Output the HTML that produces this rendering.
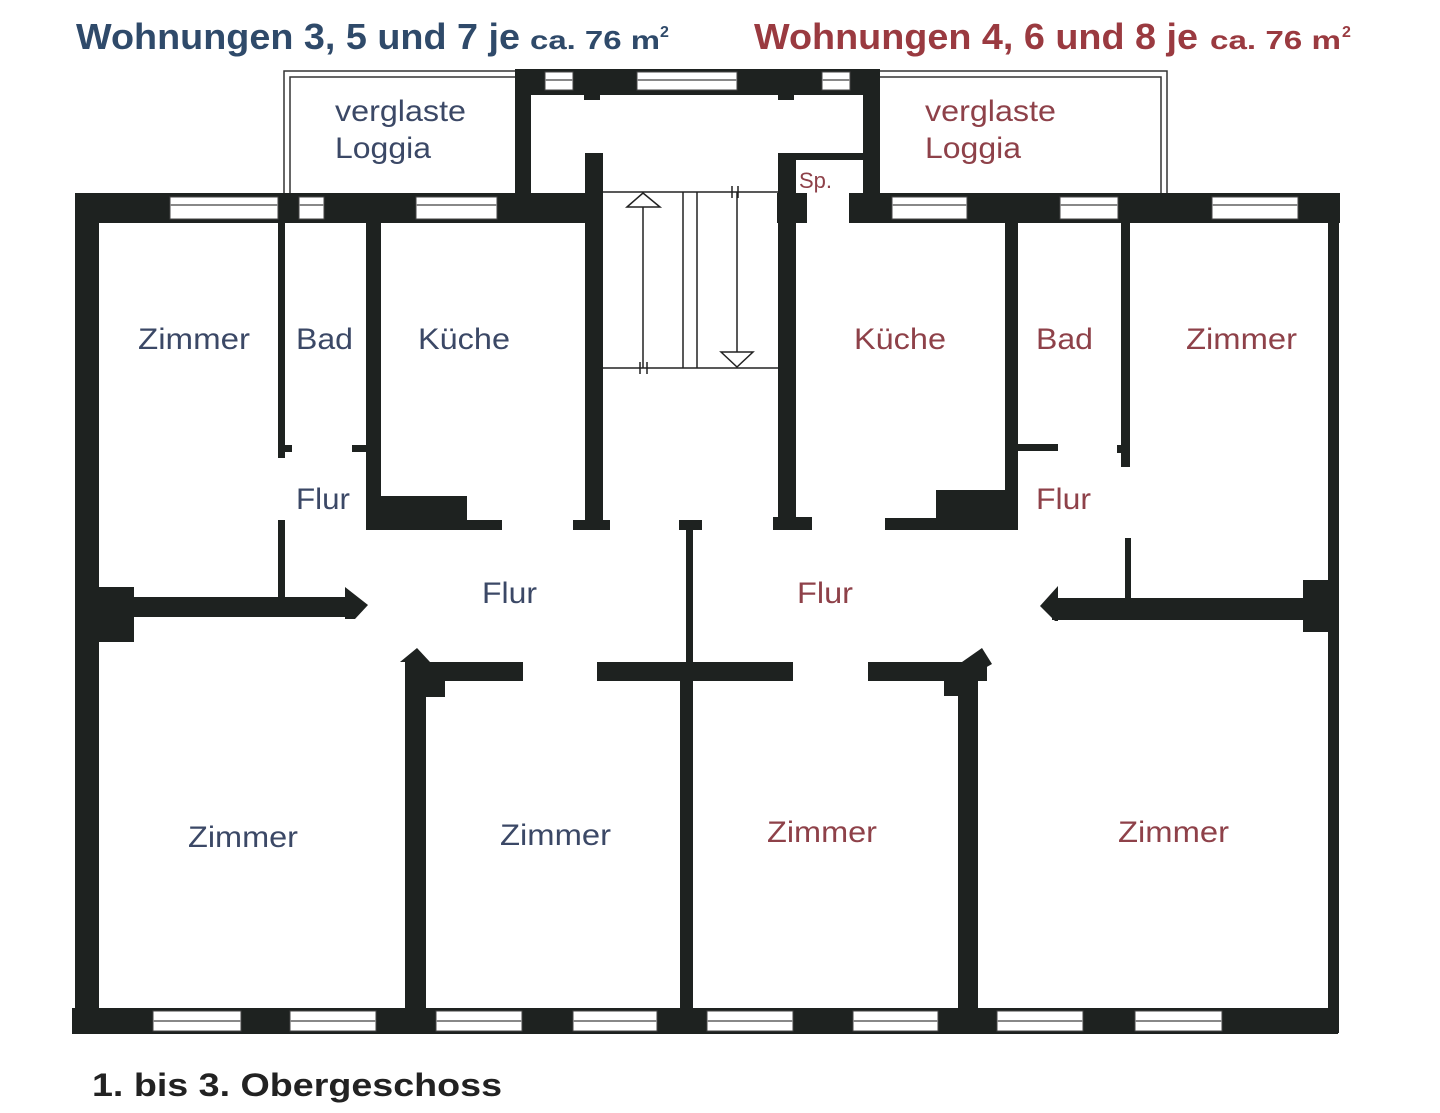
<!DOCTYPE html>
<html><head><meta charset="utf-8"><style>
html,body{margin:0;padding:0;background:#fff;}
svg{display:block}
</style></head><body>
<svg width="1440" height="1113" viewBox="0 0 1440 1113" xmlns="http://www.w3.org/2000/svg" font-family="Liberation Sans, sans-serif">
<rect width="1440" height="1113" fill="#fff"/>
<g font-weight="bold">
<text x="76" y="49" font-size="36" fill="#2f4a6a" textLength="444" lengthAdjust="spacingAndGlyphs">Wohnungen 3, 5 und 7 je</text>
<text x="530" y="49" font-size="26" fill="#2f4a6a" textLength="130" lengthAdjust="spacingAndGlyphs">ca. 76 m</text>
<text x="660" y="37" font-size="16" fill="#2f4a6a">2</text>
<text x="754" y="49" font-size="36" fill="#9a3a40" textLength="444" lengthAdjust="spacingAndGlyphs">Wohnungen 4, 6 und 8 je</text>
<text x="1210" y="49" font-size="26" fill="#9a3a40" textLength="131" lengthAdjust="spacingAndGlyphs">ca. 76 m</text>
<text x="1342" y="37" font-size="16" fill="#9a3a40">2</text>
<text x="92" y="1096" font-size="32" fill="#222" textLength="410" lengthAdjust="spacingAndGlyphs">1. bis 3. Obergeschoss</text>
</g>

<g fill="none" stroke="#333" stroke-width="1.5">
<path d="M284 193 V71 H517"/><path d="M290 193 V77 H517"/>
<path d="M878 71 H1167 V193"/><path d="M878 77 H1161 V193"/>
</g>

<g fill="#1e2220">
<rect x="515" y="69" width="365" height="26"/>
<rect x="515" y="69" width="16" height="153"/>
<rect x="863" y="69" width="17" height="153"/>
<rect x="584" y="93" width="16" height="7"/>
<rect x="778" y="93" width="16" height="7"/>
<rect x="75" y="193" width="527" height="30"/>
<rect x="777" y="193" width="30" height="30"/>
<rect x="849" y="193" width="491" height="30"/>
<rect x="75" y="193" width="24" height="840"/>
<rect x="1328" y="193" width="11" height="840"/>
<rect x="72" y="1008" width="1266" height="26"/>
<rect x="278" y="222" width="7" height="236"/>
<rect x="278" y="445" width="14" height="7"/>
<rect x="352" y="445" width="14" height="7"/>
<rect x="366" y="222" width="15" height="308"/>
<rect x="381" y="496" width="86" height="34"/>
<rect x="381" y="520" width="121" height="10"/>
<rect x="278" y="520" width="7" height="80"/>
<rect x="585" y="153" width="18" height="377"/>
<rect x="573" y="520" width="37" height="10"/>
<rect x="778" y="153" width="18" height="377"/>
<rect x="773" y="517" width="39" height="13"/>
<rect x="778" y="153" width="90" height="7"/>
<rect x="1005" y="222" width="13" height="308"/>
<rect x="936" y="490" width="69" height="30"/>
<rect x="885" y="518" width="133" height="12"/>
<rect x="1018" y="444" width="40" height="7"/>
<rect x="1121" y="222" width="9" height="245"/>
<rect x="1117" y="445" width="6" height="8"/>
<rect x="1125" y="538" width="6" height="62"/>
<rect x="679" y="520" width="23" height="10"/>
<rect x="686" y="520" width="7" height="142"/>
<rect x="98" y="587" width="36" height="55"/>
<rect x="98" y="597" width="257" height="20"/>
<polygon points="345,587 368,605 355,619 345,619"/>
<rect x="1303" y="580" width="27" height="52"/>
<rect x="1052" y="598" width="278" height="22"/>
<polygon points="1058,586 1040,606 1055,621 1058,621"/>
<rect x="405" y="662" width="118" height="19"/>
<rect x="597" y="662" width="196" height="19"/>
<rect x="868" y="662" width="119" height="19"/>
<polygon points="400,662 417,648 430,662"/>
<polygon points="962,662 982,648 992,664 978,672"/>
<rect x="405" y="662" width="21" height="350"/>
<rect x="426" y="680" width="19" height="17"/>
<rect x="680" y="662" width="13" height="350"/>
<rect x="958" y="662" width="20" height="350"/>
<rect x="944" y="680" width="16" height="16"/>
</g>

<g fill="#fff" stroke="#444" stroke-width="1">
<rect x="170" y="197" width="108" height="22"/>
<rect x="299" y="197" width="25" height="22"/>
<rect x="416" y="197" width="81" height="22"/>
<rect x="545" y="72" width="28" height="18"/>
<rect x="637" y="72" width="100" height="18"/>
<rect x="822" y="72" width="28" height="18"/>
<rect x="892" y="197" width="75" height="22"/>
<rect x="1060" y="197" width="58" height="22"/>
<rect x="1212" y="197" width="86" height="22"/>
<rect x="153" y="1011" width="88" height="20"/>
<rect x="290" y="1011" width="86" height="20"/>
<rect x="436" y="1011" width="86" height="20"/>
<rect x="573" y="1011" width="84" height="20"/>
<rect x="707" y="1011" width="86" height="20"/>
<rect x="853" y="1011" width="85" height="20"/>
<rect x="997" y="1011" width="86" height="20"/>
<rect x="1135" y="1011" width="87" height="20"/>
</g>
<g stroke="#888" stroke-width="2">
<path d="M170 205H278M299 205H324M416 205H497M892 205H967M1060 205H1118M1212 205H1298"/>
<path d="M545 80H573M637 80H737M822 80H850"/>
<path d="M153 1021H241M290 1021H376M436 1021H522M573 1021H657M707 1021H793M853 1021H938M997 1021H1083M1135 1021H1222"/>
</g>

<g stroke="#222" stroke-width="1.5" fill="none">
<path d="M603 192H778M603 368H778"/>
<path d="M643 200V368M683 192V368M697 192V368M737 192V360"/>
<path d="M627 207L643 193L660 207Z" fill="#fff"/>
<path d="M721 352L737 367L753 352Z" fill="#fff"/>
<path d="M732 186V198M738 186V198M640 362V374M647 362V374"/>
</g>

<g font-size="30" fill="#3b4866" lengthAdjust="spacingAndGlyphs">
<text x="335" y="121" textLength="131" lengthAdjust="spacingAndGlyphs">verglaste</text>
<text x="335" y="158" textLength="96" lengthAdjust="spacingAndGlyphs">Loggia</text>
<text x="138" y="349" textLength="112" lengthAdjust="spacingAndGlyphs">Zimmer</text>
<text x="296" y="349" textLength="57" lengthAdjust="spacingAndGlyphs">Bad</text>
<text x="418" y="349" textLength="92" lengthAdjust="spacingAndGlyphs">Küche</text>
<text x="296" y="509" textLength="54" lengthAdjust="spacingAndGlyphs">Flur</text>
<text x="482" y="603" textLength="55" lengthAdjust="spacingAndGlyphs">Flur</text>
<text x="188" y="847" textLength="110" lengthAdjust="spacingAndGlyphs">Zimmer</text>
<text x="500" y="845" textLength="111" lengthAdjust="spacingAndGlyphs">Zimmer</text>
</g>
<g font-size="30" fill="#8e4149">
<text x="925" y="121" textLength="131" lengthAdjust="spacingAndGlyphs">verglaste</text>
<text x="925" y="158" textLength="96" lengthAdjust="spacingAndGlyphs">Loggia</text>
<text x="799" y="188" font-size="22">Sp.</text>
<text x="854" y="349" textLength="92" lengthAdjust="spacingAndGlyphs">Küche</text>
<text x="1036" y="349" textLength="57" lengthAdjust="spacingAndGlyphs">Bad</text>
<text x="1186" y="349" textLength="111" lengthAdjust="spacingAndGlyphs">Zimmer</text>
<text x="1036" y="509" textLength="55" lengthAdjust="spacingAndGlyphs">Flur</text>
<text x="797" y="603" textLength="56" lengthAdjust="spacingAndGlyphs">Flur</text>
<text x="767" y="842" textLength="110" lengthAdjust="spacingAndGlyphs">Zimmer</text>
<text x="1118" y="842" textLength="111" lengthAdjust="spacingAndGlyphs">Zimmer</text>
</g>
</svg>
</body></html>
